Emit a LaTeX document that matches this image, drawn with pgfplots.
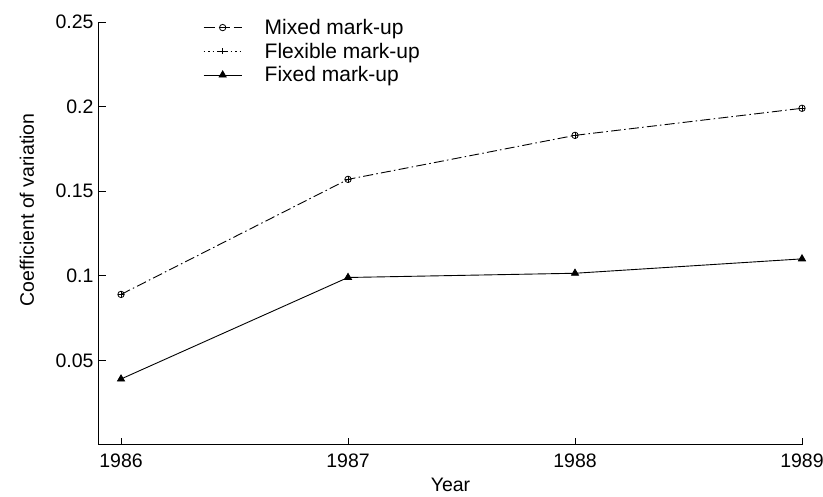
\documentclass[border=0pt]{standalone}
\usepackage{pgfplots}
\pgfplotsset{compat=1.18}
\usepackage{fontspec}
\setmainfont{Liberation Sans}
\begin{document}
\begin{tikzpicture}[font=\fontsize{19.5}{23}\selectfont]
\path[use as bounding box] (-99pt,-52pt) rectangle (724pt,445pt);
\begin{axis}[
  at={(0,0)}, anchor=south west,
  scale only axis, width=703pt, height=423pt,
  xmin=1985.903, xmax=1989, ymin=0, ymax=0.25,
  axis lines=left, axis line style={-, line width=1pt},
  xtick={1986,1987,1988,1989},
  ytick={0.05,0.1,0.15,0.2,0.25},
  yticklabels={0.05,0.1,0.15,0.2,0.25},
  scaled y ticks=false,
  /pgf/number format/1000 sep={},
  /pgf/number format/assume math mode=true,
  tick label style={font=\fontsize{19.5}{23}\selectfont},
  label style={font=\fontsize{19.5}{23}\selectfont},
  tick align=inside, major tick length=7pt,
  tick style={line width=0.9pt, black},
  xlabel={Year}, ylabel={Coefficient of variation},
  xlabel style={at={(axis description cs:0.5,-0.0946)}, anchor=center},
  ylabel style={at={(axis description cs:-0.1024,0.556)}, anchor=center},
  xticklabel style={yshift=-5pt},
  yticklabel style={xshift=-2pt},
  legend style={at={(0.1437,1.0165)}, anchor=north west, draw=none, fill=none,
    font=\fontsize{21}{24}\selectfont, row sep=3pt},
  legend cell align=left,
  legend image code/.code={\draw[mark repeat=2,mark phase=2,#1] plot coordinates {(0pt,0pt)(19pt,0pt)(38pt,0pt)};
    \path[draw=none, fill=none] (0pt,0pt) rectangle (59pt,1pt);},
]
\addplot[black, line width=0.9pt, dash pattern=on 10pt off 8pt, mark=o, mark size=3.2pt, mark options={solid, line width=0.8pt},
  legend image post style={dash pattern=on 11pt off 4pt}]
  coordinates {(1986,0.089) (1987,0.157) (1988,0.183) (1989,0.199)};
\addlegendentry{Mixed mark-up}
\addplot[black, line width=0.9pt, dash pattern=on 1.5pt off 16.5pt, dash phase=4.75pt, mark=+, mark size=3.2pt, mark options={solid, line width=0.8pt},
  legend image post style={dash pattern=on 1.5pt off 3pt, dash phase=0pt}]
  coordinates {(1986,0.089) (1987,0.157) (1988,0.183) (1989,0.199)};
\addlegendentry{Flexible mark-up}
\addplot[black, line width=0.9pt, solid, mark=triangle*, mark size=4pt]
  coordinates {(1986,0.039) (1987,0.099) (1988,0.1015) (1989,0.110)};
\addlegendentry{Fixed mark-up}
\end{axis}
\end{tikzpicture}
\end{document}
